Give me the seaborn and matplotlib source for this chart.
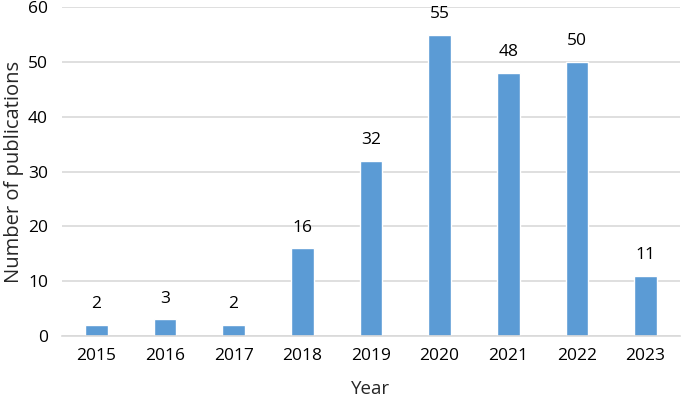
import matplotlib
matplotlib.use("Agg")
import matplotlib.pyplot as plt
import seaborn as sns
import pandas as pd

years = ['2015', '2016', '2017', '2018', '2019', '2020', '2021', '2022', '2023']
counts = [2, 3, 2, 16, 32, 55, 48, 50, 11]

df = pd.DataFrame({'Year': years, 'Count': counts})

sns.set_style('white')
plt.rcParams['font.family'] = ['Open Sans', 'DejaVu Sans']

fig = plt.figure(figsize=(6.85, 3.97), dpi=100)
ax = fig.add_axes([0.0905, 0.154, 0.902, 0.828])

sns.barplot(data=df, x='Year', y='Count', color='#5B9BD5', saturation=1, width=0.33, ax=ax, zorder=3)

for i, v in enumerate(counts):
    ax.text(i, v + 2.3, str(v), ha='center', va='bottom', fontsize=12.5, color='#000000')

ax.set_ylim(0, 60)
ax.set_yticks(range(0, 61, 10))
ax.set_xlim(-0.5, len(years) - 0.5)
ax.yaxis.grid(True, color='#D9D9D9', linewidth=1.2)
ax.set_axisbelow(True)
for s in ['top', 'right', 'left']:
    ax.spines[s].set_visible(False)
ax.spines['bottom'].set_color('#D9D9D9')
ax.spines['bottom'].set_linewidth(1.2)
ax.spines['bottom'].set_zorder(4)
ax.tick_params(axis='both', length=0, labelsize=12.5, colors='#000000')
ax.tick_params(axis='x', pad=9)
ax.tick_params(axis='y', pad=10)
ax.set_xlabel('Year', fontsize=13.5, labelpad=11)
ax.set_ylabel('Number of publications', fontsize=14.5, labelpad=3)

fig.savefig('out.png', dpi=100)
